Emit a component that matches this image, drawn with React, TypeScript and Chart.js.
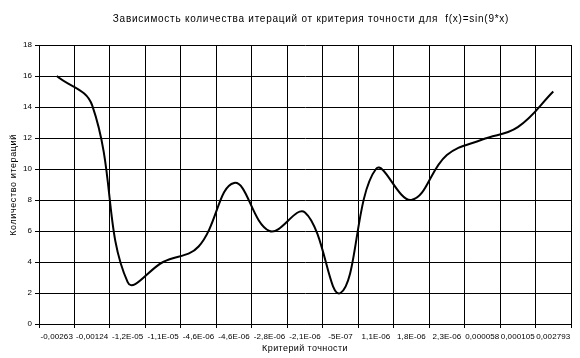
import React, { useEffect, useRef } from "react";
import { Chart, registerables } from "chart.js";

Chart.register(...registerables);

const categories: string[] = [
  "-0,00263", "-0,00124", "-1,2E-05", "-1,1E-05", "-4,6E-06", "-4,6E-06", "-2,8E-06",
  "-2,1E-06", "-5E-07", "1,1E-06", "1,8E-06", "2,3E-06", "0,000058", "0,000105", "0,002793",
];
const iterations: number[] = [16, 14.1, 2.7, 4.0, 5.0, 9.1, 6.0, 7.2, 2.0, 10.0, 8.0, 10.9, 11.9, 12.7, 15];

const chartTitle = "Зависимость количества итераций от критерия точности для  f(x)=sin(9*x)";
const xTitle = "Критерий точности";
const yTitle = "Количество итераций";

const FONT = "'Liberation Sans', Arial, sans-serif";

const spacingPlugin = {
  id: "spacingPlugin",
  beforeDraw(chart: any) {
    chart.ctx.letterSpacing = "0.1px";
  },
};

const titlesPlugin = {
  id: "titlesPlugin",
  afterDraw(chart: any) {
    const ctx = chart.ctx;
    const area = chart.chartArea;
    ctx.save();
    ctx.fillStyle = "#000";
    ctx.textBaseline = "middle";
    ctx.textAlign = "center";
    ctx.letterSpacing = "0.75px";
    ctx.font = `10px ${FONT}`;
    ctx.fillText(chartTitle, 311, 19);
    ctx.letterSpacing = "0.4px";
    ctx.font = `9px ${FONT}`;
    ctx.fillText(xTitle, (area.left + area.right) / 2, 349);
    ctx.letterSpacing = "0.6px";
    ctx.translate(14, 185);
    ctx.rotate(-Math.PI / 2);
    ctx.fillText(yTitle, 0, 0);
    ctx.restore();
  },
};

export default function App() {
  const ref = useRef<HTMLCanvasElement | null>(null);
  useEffect(() => {
    if (!ref.current) return;
    const chart = new Chart(ref.current, {
      type: "line",
      data: {
        labels: categories,
        datasets: [
          {
            data: iterations,
            borderColor: "#000",
            borderWidth: 2,
            pointRadius: 0,
            tension: 0.4,
            fill: false,
          },
        ],
      },
      options: {
        responsive: false,
        animation: false,
        devicePixelRatio: 1,
        layout: { padding: { top: 45, right: 9, left: 0, bottom: 0 } },
        plugins: { legend: { display: false }, title: { display: false }, tooltip: { enabled: false } },
        scales: {
          x: {
            type: "category",
            offset: true,
            afterFit: (s: any) => { s.height = 34; },
            grid: { offset: true, color: "#000", lineWidth: 1, tickLength: 4, drawTicks: true, tickColor: "#000" },
            border: { color: "#000", width: 1 },
            ticks: {
              color: "#000",
              font: { family: FONT, size: 8 },
              maxRotation: 0,
              minRotation: 0,
              autoSkip: false,
              padding: 4,
            },
          },
          y: {
            min: 0,
            max: 18,
            afterFit: (s: any) => { s.width = 39; },
            grid: { color: "#000", lineWidth: 1, tickLength: 4, tickColor: "#000" },
            border: { color: "#000", width: 1 },
            ticks: {
              stepSize: 2,
              color: "#000",
              font: { family: FONT, size: 8 },
              padding: 3,
            },
          },
        },
      },
      plugins: [spacingPlugin, titlesPlugin],
    });
    return () => chart.destroy();
  }, []);
  return (
    <div style={{ position: "fixed", left: 0, top: 0, width: 580, height: 358, background: "#fff" }}>
      <canvas ref={ref} width={580} height={358} />
    </div>
  );
}
